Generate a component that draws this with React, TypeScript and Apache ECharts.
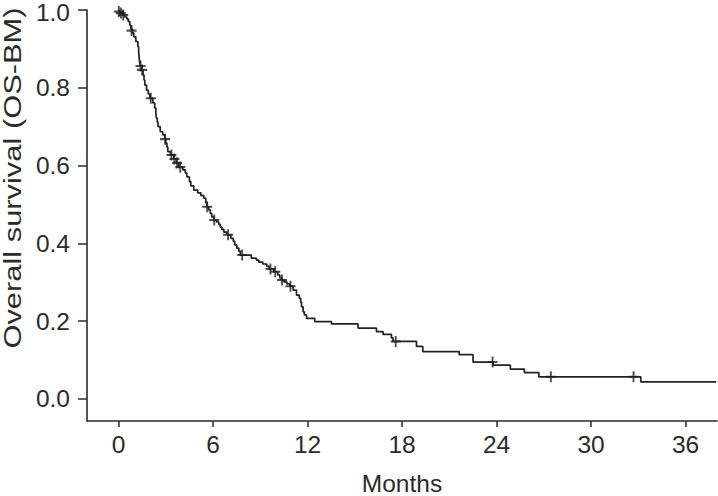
import React, { useEffect, useRef } from "react";
import * as echarts from "echarts";

// Kaplan–Meier step points: survival drops to `survival[i]` at `months[i]`
const months = [
  0, 0.05, 0.15, 0.27, 0.4, 0.53, 0.62, 0.72, 0.78, 0.88, 0.97, 1.1, 1.23, 1.28, 1.31, 1.34, 1.37, 1.46, 1.56, 1.62,
  1.67, 1.78, 1.89, 1.99, 2.18, 2.3, 2.37, 2.41, 2.46, 2.51, 2.65, 2.81, 2.94, 3.0, 3.07, 3.13, 3.29, 3.51, 3.67, 3.83,
  4.08, 4.24, 4.34, 4.5, 4.59, 4.78, 5.03, 5.23, 5.42, 5.54, 5.61, 5.73, 5.83, 5.92, 6.05, 6.22, 6.37, 6.46, 6.56, 6.69,
  6.88, 7.13, 7.29, 7.38, 7.51, 7.64, 7.73, 8.43, 8.75, 8.91, 9.16, 9.42, 9.57, 9.86, 10.11, 10.24, 10.34, 10.5, 10.69, 10.88,
  11.09, 11.3, 11.48, 11.57, 11.62, 11.72, 11.8, 11.94, 12.46, 13.52, 15.21, 16.38, 16.8, 17.33, 17.43, 18.92, 19.32, 21.63, 22.51, 23.78,
  24.88, 25.77, 26.69, 33.16, 37.95,
];
const survival = [
  1.0, 0.996, 0.992, 0.987, 0.982, 0.977, 0.97, 0.961, 0.951, 0.941, 0.931, 0.919, 0.906, 0.892, 0.879, 0.866, 0.856, 0.846, 0.833, 0.82,
  0.807, 0.794, 0.784, 0.773, 0.761, 0.748, 0.735, 0.722, 0.712, 0.7, 0.687, 0.679, 0.668, 0.658, 0.648, 0.636, 0.627, 0.617, 0.607, 0.596,
  0.589, 0.581, 0.571, 0.559, 0.548, 0.537, 0.53, 0.523, 0.516, 0.504, 0.494, 0.486, 0.477, 0.468, 0.46, 0.455, 0.449, 0.442, 0.436, 0.429,
  0.422, 0.413, 0.405, 0.396, 0.388, 0.38, 0.37, 0.362, 0.357, 0.352, 0.347, 0.341, 0.334, 0.327, 0.319, 0.311, 0.306, 0.301, 0.296, 0.29,
  0.28, 0.267, 0.259, 0.249, 0.237, 0.224, 0.216, 0.207, 0.199, 0.193, 0.182, 0.173, 0.166, 0.157, 0.148, 0.135, 0.122, 0.114, 0.095, 0.087,
  0.077, 0.068, 0.057, 0.044, 0.044,
];

// Censored observations
const censorMonths = [0.02, 0.15, 0.3, 0.83, 1.4, 1.5, 2.05, 2.96, 3.36, 3.55, 3.72, 3.92, 5.63, 6.08, 6.96, 7.85, 9.65, 9.95, 10.38, 10.92, 17.6, 23.75, 27.45, 32.7];
const censorSurvival = [0.996, 0.992, 0.987, 0.947, 0.856, 0.846, 0.773, 0.668, 0.627, 0.617, 0.607, 0.596, 0.494, 0.46, 0.422, 0.37, 0.334, 0.327, 0.306, 0.29, 0.148, 0.095, 0.057, 0.057];

const xTicks = [0, 6, 12, 18, 24, 30, 36];
const yTicks = [0, 0.2, 0.4, 0.6, 0.8, 1.0];

const xTitle = "Months";
const yTitle = "Overall survival (OS-BM)";

const FONT = "'Liberation Sans', Arial, Helvetica, sans-serif";
const INK = "#2b2b2b";

const PLUS = "path://M-1.5,-8 L1.5,-8 L1.5,-1.5 L8,-1.5 L8,1.5 L1.5,1.5 L1.5,8 L-1.5,8 L-1.5,1.5 L-8,1.5 L-8,-1.5 L-1.5,-1.5 Z";

export default function App() {
  const ref = useRef<HTMLDivElement>(null);
  useEffect(() => {
    document.body.style.margin = "0";
    const chart = echarts.init(ref.current!, undefined, { renderer: "svg" });
    const kmData = months.map((m, i) => [m, survival[i]]);
    const censorData = censorMonths.map((m, i) => [m, censorSurvival[i]]);
    chart.setOption({
      animation: false,
      backgroundColor: "#ffffff",
      grid: { left: 87, right: 1, top: 10, bottom: 75, containLabel: false, outerBoundsMode: "none" },
      xAxis: {
        type: "value",
        min: -2,
        max: 38,
        splitLine: { show: false },
        axisLine: { show: true, onZero: false, lineStyle: { color: INK, width: 1.6 } },
        axisTick: { show: true, length: 6, customValues: xTicks, lineStyle: { color: INK, width: 1.5 } },
        axisLabel: {
          customValues: xTicks,
          color: INK,
          fontSize: 24.5,
          lineHeight: 22,
          fontFamily: FONT,
          margin: 12,
          formatter: (v: number) => String(v),
        },
        name: xTitle,
        nameLocation: "middle",
        nameGap: 51,
        nameTextStyle: { color: INK, fontSize: 24.5, lineHeight: 22, fontFamily: FONT },
      },
      yAxis: {
        type: "value",
        min: -0.0566,
        max: 1.0,
        splitLine: { show: false },
        axisLine: { show: true, onZero: false, lineStyle: { color: INK, width: 1.6 } },
        axisTick: { show: true, length: 9, customValues: yTicks, lineStyle: { color: INK, width: 1.5 } },
        axisLabel: {
          customValues: yTicks,
          color: INK,
          fontSize: 24.5,
          lineHeight: 20,
          fontFamily: FONT,
          margin: 17,
          formatter: (v: number) => (v >= 1 ? `{top|${v.toFixed(1)}}` : v.toFixed(1)),
          rich: {
            top: { fontSize: 24.5, lineHeight: 20, fontFamily: FONT, color: INK, padding: [5, 0, 0, 0] },
          },
        },
      },
      graphic: [
        {
          type: "text",
          x: 13,
          y: 178,
          rotation: Math.PI / 2,
          scaleX: 1.26,
          scaleY: 1,
          style: {
            text: yTitle,
            fill: INK,
            font: `24.5px ${FONT}`,
            textAlign: "center",
            textVerticalAlign: "middle",
          },
        },
      ],
      series: [
        {
          type: "line",
          step: "end",
          data: kmData,
          showSymbol: false,
          symbol: "none",
          lineStyle: { color: "#222", width: 1.7 },
          silent: true,
        },
        {
          type: "scatter",
          data: censorData,
          symbol: PLUS,
          symbolSize: [10, 11],
          itemStyle: { color: "#222" },
          silent: true,
        },
      ],
    });
    return () => chart.dispose();
  }, []);
  return <div ref={ref} style={{ position: "fixed", left: 0, top: 0, width: 718, height: 496 }} />;
}
